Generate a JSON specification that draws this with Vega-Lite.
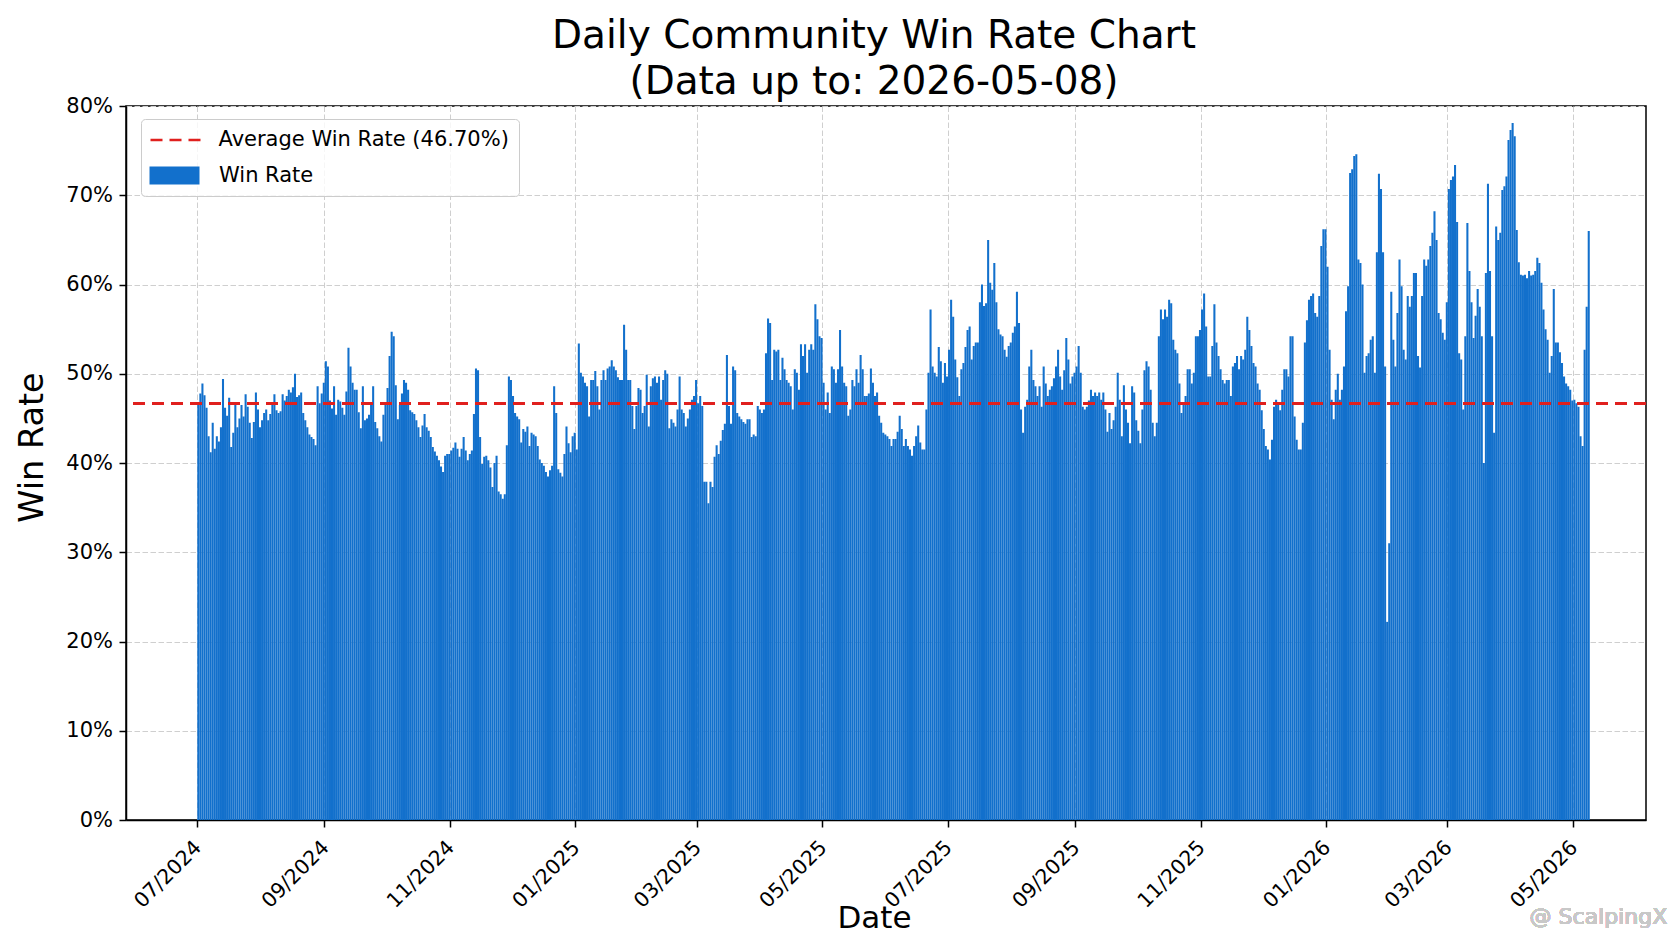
{
"$schema":"https://vega.github.io/schema/vega-lite/v6.json",
"width":1520,"height":714,
"autosize":{"type":"none"},
"padding":{"left":126,"top":106,"right":26,"bottom":121},
"background":"white",
"title":{"text":["Daily Community Win Rate Chart","(Data up to: 2026-05-08)"],"fontSize":39,"font":"DejaVu Sans","fontWeight":"normal","color":"#000000","lineHeight":46,"anchor":"middle","frame":"group","offset":4,"dx":-12,"dy":11},
"resolve":{"scale":{"color":"independent"}},
"data":{"values":[
{"d":"2024-07-01","v":46.5},{"d":"2024-07-02","v":47.8},{"d":"2024-07-03","v":48.9},{"d":"2024-07-04","v":47.6},{"d":"2024-07-05","v":46.2},{"d":"2024-07-06","v":43.0},{"d":"2024-07-07","v":41.2},{"d":"2024-07-08","v":44.5},{"d":"2024-07-09","v":41.6},{"d":"2024-07-10","v":43.0},{"d":"2024-07-11","v":42.4},{"d":"2024-07-12","v":44.0},{"d":"2024-07-13","v":49.4},{"d":"2024-07-14","v":46.2},{"d":"2024-07-15","v":45.3},{"d":"2024-07-16","v":47.3},{"d":"2024-07-17","v":41.8},{"d":"2024-07-18","v":43.4},{"d":"2024-07-19","v":46.5},{"d":"2024-07-20","v":44.0},{"d":"2024-07-21","v":45.0},{"d":"2024-07-22","v":46.5},{"d":"2024-07-23","v":45.2},{"d":"2024-07-24","v":47.7},{"d":"2024-07-25","v":46.3},{"d":"2024-07-26","v":44.5},{"d":"2024-07-27","v":42.8},{"d":"2024-07-28","v":44.6},{"d":"2024-07-29","v":47.9},{"d":"2024-07-30","v":46.0},{"d":"2024-07-31","v":44.0},
{"d":"2024-08-01","v":44.8},{"d":"2024-08-02","v":45.6},{"d":"2024-08-03","v":46.0},{"d":"2024-08-04","v":44.8},{"d":"2024-08-05","v":45.5},{"d":"2024-08-06","v":46.8},{"d":"2024-08-07","v":47.7},{"d":"2024-08-08","v":45.9},{"d":"2024-08-09","v":45.6},{"d":"2024-08-10","v":45.8},{"d":"2024-08-11","v":47.7},{"d":"2024-08-12","v":47.0},{"d":"2024-08-13","v":47.5},{"d":"2024-08-14","v":48.2},{"d":"2024-08-15","v":47.9},{"d":"2024-08-16","v":48.5},{"d":"2024-08-17","v":50.0},{"d":"2024-08-18","v":47.4},{"d":"2024-08-19","v":47.6},{"d":"2024-08-20","v":47.9},{"d":"2024-08-21","v":45.6},{"d":"2024-08-22","v":44.8},{"d":"2024-08-23","v":44.0},{"d":"2024-08-24","v":43.2},{"d":"2024-08-25","v":42.9},{"d":"2024-08-26","v":42.7},{"d":"2024-08-27","v":42.0},{"d":"2024-08-28","v":48.6},{"d":"2024-08-29","v":46.7},{"d":"2024-08-30","v":47.8},{"d":"2024-08-31","v":49.0},
{"d":"2024-09-01","v":51.4},{"d":"2024-09-02","v":50.8},{"d":"2024-09-03","v":47.0},{"d":"2024-09-04","v":46.1},{"d":"2024-09-05","v":48.6},{"d":"2024-09-06","v":45.4},{"d":"2024-09-07","v":47.1},{"d":"2024-09-08","v":46.9},{"d":"2024-09-09","v":46.2},{"d":"2024-09-10","v":45.4},{"d":"2024-09-11","v":48.0},{"d":"2024-09-12","v":52.9},{"d":"2024-09-13","v":50.8},{"d":"2024-09-14","v":49.0},{"d":"2024-09-15","v":48.2},{"d":"2024-09-16","v":48.2},{"d":"2024-09-17","v":45.7},{"d":"2024-09-18","v":43.9},{"d":"2024-09-19","v":48.6},{"d":"2024-09-20","v":44.8},{"d":"2024-09-21","v":45.0},{"d":"2024-09-22","v":45.4},{"d":"2024-09-23","v":46.5},{"d":"2024-09-24","v":48.6},{"d":"2024-09-25","v":44.6},{"d":"2024-09-26","v":43.9},{"d":"2024-09-27","v":43.0},{"d":"2024-09-28","v":42.4},{"d":"2024-09-29","v":45.4},{"d":"2024-09-30","v":46.8},
{"d":"2024-10-01","v":48.4},{"d":"2024-10-02","v":52.0},{"d":"2024-10-03","v":54.7},{"d":"2024-10-04","v":54.2},{"d":"2024-10-05","v":48.7},{"d":"2024-10-06","v":44.9},{"d":"2024-10-07","v":46.5},{"d":"2024-10-08","v":47.8},{"d":"2024-10-09","v":49.3},{"d":"2024-10-10","v":49.0},{"d":"2024-10-11","v":48.2},{"d":"2024-10-12","v":45.9},{"d":"2024-10-13","v":45.7},{"d":"2024-10-14","v":45.5},{"d":"2024-10-15","v":44.8},{"d":"2024-10-16","v":44.0},{"d":"2024-10-17","v":42.9},{"d":"2024-10-18","v":44.2},{"d":"2024-10-19","v":45.5},{"d":"2024-10-20","v":44.0},{"d":"2024-10-21","v":43.6},{"d":"2024-10-22","v":42.9},{"d":"2024-10-23","v":41.8},{"d":"2024-10-24","v":41.3},{"d":"2024-10-25","v":40.8},{"d":"2024-10-26","v":40.3},{"d":"2024-10-27","v":39.6},{"d":"2024-10-28","v":39.0},{"d":"2024-10-29","v":40.8},{"d":"2024-10-30","v":41.0},{"d":"2024-10-31","v":41.0},
{"d":"2024-11-01","v":41.4},{"d":"2024-11-02","v":41.7},{"d":"2024-11-03","v":42.3},{"d":"2024-11-04","v":41.6},{"d":"2024-11-05","v":40.7},{"d":"2024-11-06","v":41.6},{"d":"2024-11-07","v":42.9},{"d":"2024-11-08","v":41.4},{"d":"2024-11-09","v":40.3},{"d":"2024-11-10","v":41.0},{"d":"2024-11-11","v":41.4},{"d":"2024-11-12","v":45.5},{"d":"2024-11-13","v":50.6},{"d":"2024-11-14","v":50.4},{"d":"2024-11-15","v":42.9},{"d":"2024-11-16","v":39.9},{"d":"2024-11-17","v":40.7},{"d":"2024-11-18","v":40.8},{"d":"2024-11-19","v":40.3},{"d":"2024-11-20","v":39.5},{"d":"2024-11-21","v":37.3},{"d":"2024-11-22","v":40.0},{"d":"2024-11-23","v":40.8},{"d":"2024-11-24","v":36.8},{"d":"2024-11-25","v":36.5},{"d":"2024-11-26","v":36.0},{"d":"2024-11-27","v":36.5},{"d":"2024-11-28","v":42.0},{"d":"2024-11-29","v":49.7},{"d":"2024-11-30","v":49.3},
{"d":"2024-12-01","v":47.5},{"d":"2024-12-02","v":45.6},{"d":"2024-12-03","v":45.2},{"d":"2024-12-04","v":44.9},{"d":"2024-12-05","v":42.3},{"d":"2024-12-06","v":43.8},{"d":"2024-12-07","v":43.5},{"d":"2024-12-08","v":44.1},{"d":"2024-12-09","v":41.9},{"d":"2024-12-10","v":43.4},{"d":"2024-12-11","v":43.2},{"d":"2024-12-12","v":43.0},{"d":"2024-12-13","v":41.9},{"d":"2024-12-14","v":40.4},{"d":"2024-12-15","v":40.0},{"d":"2024-12-16","v":39.7},{"d":"2024-12-17","v":39.0},{"d":"2024-12-18","v":38.5},{"d":"2024-12-19","v":39.2},{"d":"2024-12-20","v":39.7},{"d":"2024-12-21","v":48.6},{"d":"2024-12-22","v":45.6},{"d":"2024-12-23","v":39.3},{"d":"2024-12-24","v":38.9},{"d":"2024-12-25","v":38.5},{"d":"2024-12-26","v":41.0},{"d":"2024-12-27","v":44.1},{"d":"2024-12-28","v":42.2},{"d":"2024-12-29","v":41.2},{"d":"2024-12-30","v":43.0},{"d":"2024-12-31","v":43.4},
{"d":"2025-01-01","v":41.5},{"d":"2025-01-02","v":53.4},{"d":"2025-01-03","v":50.1},{"d":"2025-01-04","v":49.7},{"d":"2025-01-05","v":49.0},{"d":"2025-01-06","v":48.6},{"d":"2025-01-07","v":45.2},{"d":"2025-01-08","v":49.3},{"d":"2025-01-09","v":49.3},{"d":"2025-01-10","v":50.3},{"d":"2025-01-11","v":48.6},{"d":"2025-01-12","v":46.0},{"d":"2025-01-13","v":49.3},{"d":"2025-01-14","v":50.4},{"d":"2025-01-15","v":49.3},{"d":"2025-01-16","v":50.6},{"d":"2025-01-17","v":50.8},{"d":"2025-01-18","v":51.5},{"d":"2025-01-19","v":50.8},{"d":"2025-01-20","v":50.4},{"d":"2025-01-21","v":49.6},{"d":"2025-01-22","v":49.3},{"d":"2025-01-23","v":49.3},{"d":"2025-01-24","v":55.5},{"d":"2025-01-25","v":52.7},{"d":"2025-01-26","v":49.3},{"d":"2025-01-27","v":49.3},{"d":"2025-01-28","v":46.4},{"d":"2025-01-29","v":43.8},{"d":"2025-01-30","v":46.4},{"d":"2025-01-31","v":48.4},
{"d":"2025-02-01","v":48.2},{"d":"2025-02-02","v":45.6},{"d":"2025-02-03","v":46.4},{"d":"2025-02-04","v":49.9},{"d":"2025-02-05","v":44.1},{"d":"2025-02-06","v":48.6},{"d":"2025-02-07","v":49.5},{"d":"2025-02-08","v":49.7},{"d":"2025-02-09","v":49.0},{"d":"2025-02-10","v":49.7},{"d":"2025-02-11","v":47.1},{"d":"2025-02-12","v":49.3},{"d":"2025-02-13","v":50.4},{"d":"2025-02-14","v":50.0},{"d":"2025-02-15","v":43.9},{"d":"2025-02-16","v":44.9},{"d":"2025-02-17","v":44.5},{"d":"2025-02-18","v":44.1},{"d":"2025-02-19","v":46.0},{"d":"2025-02-20","v":49.7},{"d":"2025-02-21","v":46.0},{"d":"2025-02-22","v":45.6},{"d":"2025-02-23","v":44.1},{"d":"2025-02-24","v":45.0},{"d":"2025-02-25","v":46.0},{"d":"2025-02-26","v":47.1},{"d":"2025-02-27","v":47.5},{"d":"2025-02-28","v":49.3},
{"d":"2025-03-01","v":46.7},{"d":"2025-03-02","v":47.5},{"d":"2025-03-03","v":46.4},{"d":"2025-03-04","v":37.9},{"d":"2025-03-05","v":37.9},{"d":"2025-03-06","v":35.5},{"d":"2025-03-07","v":37.9},{"d":"2025-03-08","v":37.3},{"d":"2025-03-09","v":40.7},{"d":"2025-03-10","v":42.0},{"d":"2025-03-11","v":41.0},{"d":"2025-03-12","v":42.5},{"d":"2025-03-13","v":43.7},{"d":"2025-03-14","v":44.4},{"d":"2025-03-15","v":52.1},{"d":"2025-03-16","v":46.4},{"d":"2025-03-17","v":44.4},{"d":"2025-03-18","v":50.8},{"d":"2025-03-19","v":50.4},{"d":"2025-03-20","v":45.6},{"d":"2025-03-21","v":45.2},{"d":"2025-03-22","v":44.9},{"d":"2025-03-23","v":44.6},{"d":"2025-03-24","v":44.4},{"d":"2025-03-25","v":44.9},{"d":"2025-03-26","v":44.9},{"d":"2025-03-27","v":42.9},{"d":"2025-03-28","v":43.2},{"d":"2025-03-29","v":43.0},{"d":"2025-03-30","v":46.4},{"d":"2025-03-31","v":46.0},
{"d":"2025-04-01","v":45.6},{"d":"2025-04-02","v":46.0},{"d":"2025-04-03","v":52.3},{"d":"2025-04-04","v":56.2},{"d":"2025-04-05","v":55.7},{"d":"2025-04-06","v":49.3},{"d":"2025-04-07","v":52.7},{"d":"2025-04-08","v":52.5},{"d":"2025-04-09","v":52.7},{"d":"2025-04-10","v":49.3},{"d":"2025-04-11","v":51.8},{"d":"2025-04-12","v":50.5},{"d":"2025-04-13","v":49.3},{"d":"2025-04-14","v":49.0},{"d":"2025-04-15","v":48.6},{"d":"2025-04-16","v":46.0},{"d":"2025-04-17","v":50.5},{"d":"2025-04-18","v":50.1},{"d":"2025-04-19","v":48.2},{"d":"2025-04-20","v":53.3},{"d":"2025-04-21","v":52.0},{"d":"2025-04-22","v":53.3},{"d":"2025-04-23","v":50.1},{"d":"2025-04-24","v":52.7},{"d":"2025-04-25","v":53.3},{"d":"2025-04-26","v":52.7},{"d":"2025-04-27","v":57.8},{"d":"2025-04-28","v":56.1},{"d":"2025-04-29","v":54.2},{"d":"2025-04-30","v":54.0},
{"d":"2025-05-01","v":49.0},{"d":"2025-05-02","v":46.0},{"d":"2025-05-03","v":47.9},{"d":"2025-05-04","v":45.6},{"d":"2025-05-05","v":50.8},{"d":"2025-05-06","v":50.5},{"d":"2025-05-07","v":49.0},{"d":"2025-05-08","v":50.5},{"d":"2025-05-09","v":54.9},{"d":"2025-05-10","v":50.8},{"d":"2025-05-11","v":49.0},{"d":"2025-05-12","v":48.6},{"d":"2025-05-13","v":45.3},{"d":"2025-05-14","v":46.0},{"d":"2025-05-15","v":49.3},{"d":"2025-05-16","v":48.6},{"d":"2025-05-17","v":50.5},{"d":"2025-05-18","v":49.0},{"d":"2025-05-19","v":52.1},{"d":"2025-05-20","v":50.5},{"d":"2025-05-21","v":47.5},{"d":"2025-05-22","v":47.5},{"d":"2025-05-23","v":47.8},{"d":"2025-05-24","v":50.6},{"d":"2025-05-25","v":49.0},{"d":"2025-05-26","v":47.5},{"d":"2025-05-27","v":47.9},{"d":"2025-05-28","v":45.3},{"d":"2025-05-29","v":44.5},{"d":"2025-05-30","v":43.4},{"d":"2025-05-31","v":43.2},
{"d":"2025-06-01","v":43.0},{"d":"2025-06-02","v":42.7},{"d":"2025-06-03","v":41.9},{"d":"2025-06-04","v":42.7},{"d":"2025-06-05","v":42.7},{"d":"2025-06-06","v":43.5},{"d":"2025-06-07","v":45.3},{"d":"2025-06-08","v":43.8},{"d":"2025-06-09","v":41.9},{"d":"2025-06-10","v":42.7},{"d":"2025-06-11","v":41.9},{"d":"2025-06-12","v":41.5},{"d":"2025-06-13","v":40.8},{"d":"2025-06-14","v":41.9},{"d":"2025-06-15","v":43.0},{"d":"2025-06-16","v":44.2},{"d":"2025-06-17","v":42.3},{"d":"2025-06-18","v":41.5},{"d":"2025-06-19","v":41.5},{"d":"2025-06-20","v":46.0},{"d":"2025-06-21","v":50.1},{"d":"2025-06-22","v":57.2},{"d":"2025-06-23","v":50.8},{"d":"2025-06-24","v":50.1},{"d":"2025-06-25","v":49.7},{"d":"2025-06-26","v":53.0},{"d":"2025-06-27","v":51.4},{"d":"2025-06-28","v":49.0},{"d":"2025-06-29","v":51.2},{"d":"2025-06-30","v":49.7},
{"d":"2025-07-01","v":52.7},{"d":"2025-07-02","v":58.3},{"d":"2025-07-03","v":56.4},{"d":"2025-07-04","v":51.6},{"d":"2025-07-05","v":49.6},{"d":"2025-07-06","v":47.5},{"d":"2025-07-07","v":50.5},{"d":"2025-07-08","v":51.2},{"d":"2025-07-09","v":53.0},{"d":"2025-07-10","v":54.9},{"d":"2025-07-11","v":55.3},{"d":"2025-07-12","v":51.6},{"d":"2025-07-13","v":53.1},{"d":"2025-07-14","v":53.5},{"d":"2025-07-15","v":53.5},{"d":"2025-07-16","v":58.0},{"d":"2025-07-17","v":60.0},{"d":"2025-07-18","v":57.6},{"d":"2025-07-19","v":57.9},{"d":"2025-07-20","v":65.0},{"d":"2025-07-21","v":60.2},{"d":"2025-07-22","v":59.4},{"d":"2025-07-23","v":62.4},{"d":"2025-07-24","v":58.0},{"d":"2025-07-25","v":55.0},{"d":"2025-07-26","v":54.4},{"d":"2025-07-27","v":54.2},{"d":"2025-07-28","v":52.7},{"d":"2025-07-29","v":51.9},{"d":"2025-07-30","v":53.1},{"d":"2025-07-31","v":53.5},
{"d":"2025-08-01","v":54.6},{"d":"2025-08-02","v":55.3},{"d":"2025-08-03","v":59.2},{"d":"2025-08-04","v":55.7},{"d":"2025-08-05","v":46.0},{"d":"2025-08-06","v":43.4},{"d":"2025-08-07","v":46.3},{"d":"2025-08-08","v":47.1},{"d":"2025-08-09","v":50.8},{"d":"2025-08-10","v":52.7},{"d":"2025-08-11","v":49.3},{"d":"2025-08-12","v":48.6},{"d":"2025-08-13","v":47.5},{"d":"2025-08-14","v":48.6},{"d":"2025-08-15","v":46.3},{"d":"2025-08-16","v":50.8},{"d":"2025-08-17","v":48.9},{"d":"2025-08-18","v":47.5},{"d":"2025-08-19","v":48.2},{"d":"2025-08-20","v":48.6},{"d":"2025-08-21","v":49.5},{"d":"2025-08-22","v":50.8},{"d":"2025-08-23","v":52.7},{"d":"2025-08-24","v":49.7},{"d":"2025-08-25","v":48.2},{"d":"2025-08-26","v":50.4},{"d":"2025-08-27","v":54.0},{"d":"2025-08-28","v":51.6},{"d":"2025-08-29","v":48.9},{"d":"2025-08-30","v":49.7},{"d":"2025-08-31","v":50.1},
{"d":"2025-09-01","v":50.8},{"d":"2025-09-02","v":53.1},{"d":"2025-09-03","v":50.1},{"d":"2025-09-04","v":46.3},{"d":"2025-09-05","v":46.0},{"d":"2025-09-06","v":46.3},{"d":"2025-09-07","v":47.0},{"d":"2025-09-08","v":48.2},{"d":"2025-09-09","v":47.5},{"d":"2025-09-10","v":47.9},{"d":"2025-09-11","v":47.5},{"d":"2025-09-12","v":47.9},{"d":"2025-09-13","v":47.1},{"d":"2025-09-14","v":47.9},{"d":"2025-09-15","v":46.0},{"d":"2025-09-16","v":43.5},{"d":"2025-09-17","v":45.6},{"d":"2025-09-18","v":43.8},{"d":"2025-09-19","v":44.8},{"d":"2025-09-20","v":46.3},{"d":"2025-09-21","v":50.1},{"d":"2025-09-22","v":47.1},{"d":"2025-09-23","v":43.0},{"d":"2025-09-24","v":48.7},{"d":"2025-09-25","v":46.0},{"d":"2025-09-26","v":44.5},{"d":"2025-09-27","v":42.2},{"d":"2025-09-28","v":48.6},{"d":"2025-09-29","v":47.9},{"d":"2025-09-30","v":44.8},
{"d":"2025-10-01","v":43.6},{"d":"2025-10-02","v":42.2},{"d":"2025-10-03","v":46.0},{"d":"2025-10-04","v":50.4},{"d":"2025-10-05","v":51.4},{"d":"2025-10-06","v":50.8},{"d":"2025-10-07","v":48.2},{"d":"2025-10-08","v":44.5},{"d":"2025-10-09","v":43.0},{"d":"2025-10-10","v":44.5},{"d":"2025-10-11","v":54.2},{"d":"2025-10-12","v":57.2},{"d":"2025-10-13","v":56.1},{"d":"2025-10-14","v":57.2},{"d":"2025-10-15","v":56.4},{"d":"2025-10-16","v":58.3},{"d":"2025-10-17","v":57.9},{"d":"2025-10-18","v":53.8},{"d":"2025-10-19","v":52.7},{"d":"2025-10-20","v":52.3},{"d":"2025-10-21","v":48.9},{"d":"2025-10-22","v":45.6},{"d":"2025-10-23","v":46.5},{"d":"2025-10-24","v":47.5},{"d":"2025-10-25","v":50.5},{"d":"2025-10-26","v":50.5},{"d":"2025-10-27","v":48.9},{"d":"2025-10-28","v":50.1},{"d":"2025-10-29","v":54.2},{"d":"2025-10-30","v":54.2},{"d":"2025-10-31","v":54.9},
{"d":"2025-11-01","v":57.2},{"d":"2025-11-02","v":59.0},{"d":"2025-11-03","v":55.3},{"d":"2025-11-04","v":49.7},{"d":"2025-11-05","v":49.7},{"d":"2025-11-06","v":53.1},{"d":"2025-11-07","v":57.8},{"d":"2025-11-08","v":53.5},{"d":"2025-11-09","v":52.0},{"d":"2025-11-10","v":50.5},{"d":"2025-11-11","v":49.3},{"d":"2025-11-12","v":48.9},{"d":"2025-11-13","v":49.3},{"d":"2025-11-14","v":49.3},{"d":"2025-11-15","v":47.5},{"d":"2025-11-16","v":50.8},{"d":"2025-11-17","v":51.2},{"d":"2025-11-18","v":52.0},{"d":"2025-11-19","v":50.5},{"d":"2025-11-20","v":52.0},{"d":"2025-11-21","v":51.6},{"d":"2025-11-22","v":52.7},{"d":"2025-11-23","v":56.4},{"d":"2025-11-24","v":54.9},{"d":"2025-11-25","v":53.1},{"d":"2025-11-26","v":51.2},{"d":"2025-11-27","v":50.8},{"d":"2025-11-28","v":48.9},{"d":"2025-11-29","v":48.2},{"d":"2025-11-30","v":45.9},
{"d":"2025-12-01","v":43.8},{"d":"2025-12-02","v":41.9},{"d":"2025-12-03","v":41.5},{"d":"2025-12-04","v":40.4},{"d":"2025-12-05","v":42.6},{"d":"2025-12-06","v":46.3},{"d":"2025-12-07","v":47.1},{"d":"2025-12-08","v":46.7},{"d":"2025-12-09","v":45.9},{"d":"2025-12-10","v":48.2},{"d":"2025-12-11","v":50.5},{"d":"2025-12-12","v":50.5},{"d":"2025-12-13","v":49.7},{"d":"2025-12-14","v":54.2},{"d":"2025-12-15","v":54.2},{"d":"2025-12-16","v":45.2},{"d":"2025-12-17","v":42.6},{"d":"2025-12-18","v":41.5},{"d":"2025-12-19","v":41.5},{"d":"2025-12-20","v":44.5},{"d":"2025-12-21","v":53.5},{"d":"2025-12-22","v":56.0},{"d":"2025-12-23","v":58.3},{"d":"2025-12-24","v":58.7},{"d":"2025-12-25","v":59.0},{"d":"2025-12-26","v":56.8},{"d":"2025-12-27","v":56.4},{"d":"2025-12-28","v":58.7},{"d":"2025-12-29","v":64.3},{"d":"2025-12-30","v":66.2},{"d":"2025-12-31","v":66.2},
{"d":"2026-01-01","v":62.0},{"d":"2026-01-02","v":52.7},{"d":"2026-01-03","v":47.1},{"d":"2026-01-04","v":44.9},{"d":"2026-01-05","v":48.2},{"d":"2026-01-06","v":50.0},{"d":"2026-01-07","v":47.1},{"d":"2026-01-08","v":48.2},{"d":"2026-01-09","v":50.8},{"d":"2026-01-10","v":57.0},{"d":"2026-01-11","v":59.8},{"d":"2026-01-12","v":72.5},{"d":"2026-01-13","v":72.9},{"d":"2026-01-14","v":74.4},{"d":"2026-01-15","v":74.6},{"d":"2026-01-16","v":62.8},{"d":"2026-01-17","v":62.4},{"d":"2026-01-18","v":60.0},{"d":"2026-01-19","v":50.1},{"d":"2026-01-20","v":52.0},{"d":"2026-01-21","v":52.3},{"d":"2026-01-22","v":53.8},{"d":"2026-01-23","v":54.2},{"d":"2026-01-24","v":50.1},{"d":"2026-01-25","v":63.6},{"d":"2026-01-26","v":72.4},{"d":"2026-01-27","v":70.7},{"d":"2026-01-28","v":63.6},{"d":"2026-01-29","v":50.8},{"d":"2026-01-30","v":22.2},{"d":"2026-01-31","v":31.0},
{"d":"2026-02-01","v":59.2},{"d":"2026-02-02","v":53.8},{"d":"2026-02-03","v":50.8},{"d":"2026-02-04","v":56.8},{"d":"2026-02-05","v":62.8},{"d":"2026-02-06","v":59.8},{"d":"2026-02-07","v":52.7},{"d":"2026-02-08","v":51.6},{"d":"2026-02-09","v":58.7},{"d":"2026-02-10","v":57.5},{"d":"2026-02-11","v":58.7},{"d":"2026-02-12","v":61.3},{"d":"2026-02-13","v":61.3},{"d":"2026-02-14","v":52.0},{"d":"2026-02-15","v":50.7},{"d":"2026-02-16","v":58.7},{"d":"2026-02-17","v":62.8},{"d":"2026-02-18","v":62.1},{"d":"2026-02-19","v":62.8},{"d":"2026-02-20","v":64.3},{"d":"2026-02-21","v":65.8},{"d":"2026-02-22","v":68.2},{"d":"2026-02-23","v":65.0},{"d":"2026-02-24","v":56.8},{"d":"2026-02-25","v":56.1},{"d":"2026-02-26","v":54.6},{"d":"2026-02-27","v":53.8},{"d":"2026-02-28","v":58.0},
{"d":"2026-03-01","v":70.7},{"d":"2026-03-02","v":71.7},{"d":"2026-03-03","v":72.1},{"d":"2026-03-04","v":73.4},{"d":"2026-03-05","v":67.0},{"d":"2026-03-06","v":52.3},{"d":"2026-03-07","v":51.6},{"d":"2026-03-08","v":46.0},{"d":"2026-03-09","v":54.2},{"d":"2026-03-10","v":66.9},{"d":"2026-03-11","v":61.5},{"d":"2026-03-12","v":58.0},{"d":"2026-03-13","v":54.0},{"d":"2026-03-14","v":56.5},{"d":"2026-03-15","v":59.5},{"d":"2026-03-16","v":57.5},{"d":"2026-03-17","v":54.2},{"d":"2026-03-18","v":40.0},{"d":"2026-03-19","v":61.3},{"d":"2026-03-20","v":71.3},{"d":"2026-03-21","v":61.5},{"d":"2026-03-22","v":54.2},{"d":"2026-03-23","v":43.4},{"d":"2026-03-24","v":66.5},{"d":"2026-03-25","v":65.0},{"d":"2026-03-26","v":65.8},{"d":"2026-03-27","v":70.6},{"d":"2026-03-28","v":71.0},{"d":"2026-03-29","v":72.1},{"d":"2026-03-30","v":76.2},{"d":"2026-03-31","v":77.3},
{"d":"2026-04-01","v":78.1},{"d":"2026-04-02","v":76.6},{"d":"2026-04-03","v":66.1},{"d":"2026-04-04","v":62.5},{"d":"2026-04-05","v":61.1},{"d":"2026-04-06","v":61.0},{"d":"2026-04-07","v":61.1},{"d":"2026-04-08","v":60.7},{"d":"2026-04-09","v":61.5},{"d":"2026-04-10","v":61.0},{"d":"2026-04-11","v":61.1},{"d":"2026-04-12","v":61.5},{"d":"2026-04-13","v":63.0},{"d":"2026-04-14","v":62.4},{"d":"2026-04-15","v":60.2},{"d":"2026-04-16","v":57.2},{"d":"2026-04-17","v":55.0},{"d":"2026-04-18","v":53.8},{"d":"2026-04-19","v":50.1},{"d":"2026-04-20","v":52.0},{"d":"2026-04-21","v":59.5},{"d":"2026-04-22","v":53.5},{"d":"2026-04-23","v":53.5},{"d":"2026-04-24","v":52.4},{"d":"2026-04-25","v":51.2},{"d":"2026-04-26","v":49.7},{"d":"2026-04-27","v":48.9},{"d":"2026-04-28","v":48.6},{"d":"2026-04-29","v":48.2},{"d":"2026-04-30","v":47.0},
{"d":"2026-05-01","v":47.1},{"d":"2026-05-02","v":46.7},{"d":"2026-05-03","v":46.3},{"d":"2026-05-04","v":43.0},{"d":"2026-05-05","v":41.9},{"d":"2026-05-06","v":52.7},{"d":"2026-05-07","v":57.5},{"d":"2026-05-08","v":66.0}
]},
"layer":[
{"mark":{"type":"bar","opacity":1,"binSpacing":0,"timeUnitBandSize":1},
 "encoding":{
  "x":{"field":"d","type":"temporal","timeUnit":"utcyearmonthdate",
   "scale":{"type":"utc","domain":[{"year":2024,"month":5,"date":27,"hours":14,"utc":true},{"year":2026,"month":6,"date":5,"hours":14,"utc":true}]},
   "axis":{"values":[{"year":2024,"month":7,"date":1,"utc":true},{"year":2024,"month":9,"date":1,"utc":true},{"year":2024,"month":11,"date":1,"utc":true},{"year":2025,"month":1,"date":1,"utc":true},{"year":2025,"month":3,"date":1,"utc":true},{"year":2025,"month":5,"date":1,"utc":true},{"year":2025,"month":7,"date":1,"utc":true},{"year":2025,"month":9,"date":1,"utc":true},{"year":2025,"month":11,"date":1,"utc":true},{"year":2026,"month":1,"date":1,"utc":true},{"year":2026,"month":3,"date":1,"utc":true},{"year":2026,"month":5,"date":1,"utc":true}],
    "format":"%m/%Y","labelAngle":-45,"labelAlign":"right","labelBaseline":"top","labelPadding":10,"labelOffset":-6,"labelFontSize":20.5,"labelFlush":false,"labelOverlap":false,"labelBound":false,
    "title":"Date","titleFontSize":31,"titleX":748,"titleY":107,"titleAlign":"center","titleBaseline":"alphabetic","titleAnchor":null}},
  "y":{"field":"v","type":"quantitative","scale":{"domain":[0,80],"nice":false},
   "axis":{"values":[0,10,20,30,40,50,60,70,80],"labelExpr":"datum.value + '%'","labelPadding":6.5,"labelFontSize":21,"labelFlush":false,
    "title":"Win Rate","titleFontSize":33.5,"titleAngle":-90,"titleX":-84,"titleY":341,"titleAlign":"center","titleBaseline":"alphabetic"}},
  "color":{"datum":"Win Rate","type":"nominal",
   "scale":{"domain":["Win Rate"],"range":["#1270cc"]},
   "legend":{"title":null,"orient":"none","legendX":19.5,"legendY":40.5,"padding":4,"labelOffset":19.5,"symbolType":"M-1,-0.36H1V0.36H-1Z","symbolSize":2500,"symbolStrokeWidth":0,"symbolFillColor":"#1270cc","labelFontSize":21,"labelFont":"DejaVu Sans","labelColor":"#000000","labelLimit":0,"zindex":3}}
 }},
{"mark":{"type":"rule","strokeDash":[12,7],"strokeWidth":2.6},
 "encoding":{"y":{"datum":46.7,"type":"quantitative"},
  "color":{"datum":"Average Win Rate (46.70%)","type":"nominal",
   "scale":{"domain":["Average Win Rate (46.70%)","Win Rate"],"range":["#e0201e","rgba(0,0,0,0)"]},
   "legend":{"title":null,"orient":"none","legendX":15,"legendY":13,"padding":9.5,"rowPadding":14,"labelOffset":31.5,"symbolOffset":13.5,"symbolType":"M-2.5,0H2.5","symbolSize":400,"symbolStrokeWidth":2.6,"symbolDash":[12,7],"labelFontSize":21,"labelFont":"DejaVu Sans","labelColor":"#000000","labelLimit":0,"labelExpr":"datum.label === 'Win Rate' ? ' ' : datum.label","fillColor":"rgba(255,255,255,0.8)","strokeColor":"#cccccc","cornerRadius":4,"zindex":2}}}},
{"mark":{"type":"text","align":"left","baseline":"alphabetic","fontSize":22,"color":"#c8c8c8","font":"DejaVu Sans"},
 "encoding":{"x":{"datum":{"year":2026,"month":4,"date":10,"utc":true},"type":"temporal"},
  "y":{"datum":-11.7,"type":"quantitative"},
  "text":{"value":"@ ScalpingX"}}}
],
"config":{
 "font":"DejaVu Sans",
 "view":{"stroke":"#000000","strokeWidth":1.5},
 "axis":{"domainColor":"#000000","domainWidth":1.5,"tickColor":"#000000","tickWidth":1.5,"tickSize":7,"labelFont":"DejaVu Sans","labelColor":"#000000","titleFont":"DejaVu Sans","titleFontWeight":"normal","titleColor":"#000000","grid":true,"gridColor":"#cfcfcf","gridDash":[5.5,2.5],"gridWidth":1}
}
}
